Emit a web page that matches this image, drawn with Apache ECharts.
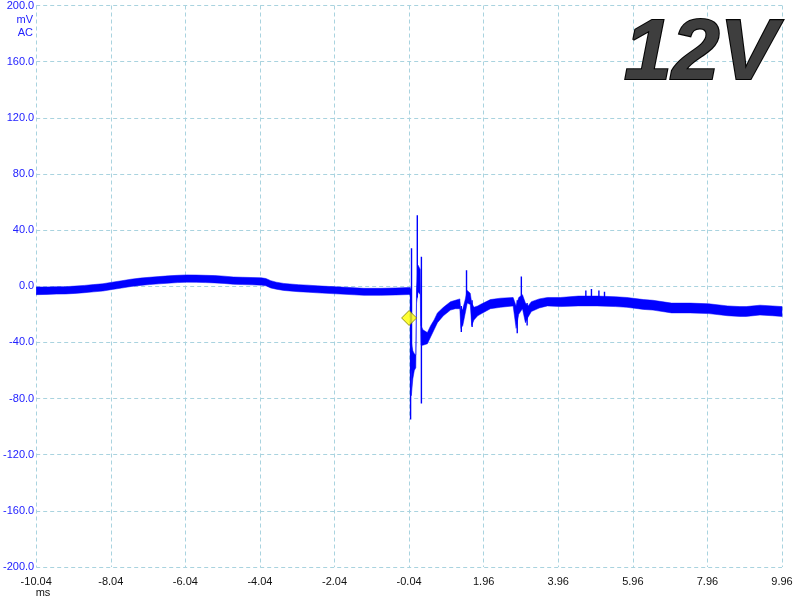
<!DOCTYPE html>
<html><head><meta charset="utf-8">
<script src="https://cdn.jsdelivr.net/npm/echarts@6/dist/echarts.min.js"></script>
<style>html,body{margin:0;padding:0;background:#fff}#c{width:800px;height:600px}</style>
</head><body><div id="c"></div>
<script>
const T0 = -10.04;
const T1 = 9.96;
const X_STEP = 2;
const Y_MIN = -200, Y_MAX = 200, Y_STEP = 40;

// trace envelope (ms, mV)
const bandT  = [-10.04,-9.75,-9.5,-9.25,-9.0,-8.75,-8.5,-8.25,-8.0,-7.75,-7.5,-7.25,-7.0,-6.75,-6.5,-6.25,-6.0,-5.75,-5.5,-5.25,-5.0,-4.75,-4.5,-4.25,-4.0,-3.88,-3.75,-3.6,-3.4,-3.0,-2.75,-2.5,-2.0,-1.5,-1.25,-0.8,-0.4,-0.05,0.0,0.02,0.06,0.10,0.14,0.16,0.2,0.26,0.28,0.33,0.45,0.54,0.63,0.72,0.88,1.07,1.2,1.32,1.35,1.40,1.46,1.52,1.60,1.64,1.70,1.80,1.87,2.14,2.41,2.75,2.83,2.90,3.0,3.08,3.15,3.24,3.45,3.67,4.02,4.5,5.0,5.5,5.8,6.25,6.5,7.0,7.5,8.0,8.5,8.83,9.0,9.37,9.7,9.96];
const bandHi = [-0.5,-0.5,-0.3,-0.3,0.1,0.6,1.2,1.8,2.9,3.9,5.0,5.8,6.4,6.9,7.4,7.8,8.1,8.0,7.8,7.6,7.2,6.6,6.4,6.2,6.0,5.5,4.0,2.9,2.0,1.1,0.8,0.3,-0.4,-1.1,-1.5,-1.5,-1.2,-0.9,-1,-40,-46,-48,-49,-2,15,12,-28,-31,-33,-28,-24,-19,-15,-11,-10,-9,-18,-16,-10,-3,-5,-12,-15,-14,-13,-9.5,-8.5,-8,-14,-8,-6,-12,-14,-11,-9,-8,-8,-7,-7,-7.5,-8,-9.5,-10,-12,-12,-12.5,-14,-14.5,-14.5,-13.5,-14,-14.5];
const bandLo = [-6.0,-5.8,-5.6,-5.5,-5.1,-4.6,-4.0,-3.4,-2.3,-1.3,-0.2,0.6,1.2,1.7,2.2,2.6,2.9,2.8,2.6,2.4,2.0,1.4,1.2,1.0,0.8,0.3,-1.2,-2.1,-3.0,-3.9,-4.2,-4.7,-5.4,-6.1,-6.5,-6.5,-6.2,-5.9,-6,-78,-66,-60,-58,-12,-4,-6,-42,-42,-41,-36,-31,-26,-21,-17,-16,-16,-30,-28,-20,-12,-13,-28,-24,-21,-20,-16,-15,-14,-30,-20,-16,-26,-22,-18,-15.5,-14,-14.5,-14,-14,-14.5,-15,-16.5,-17,-19,-19,-19.5,-21,-21.5,-21.5,-20.5,-21,-21.5];

// narrow glitches (ms, top mV, bottom mV)
const spikeT  = [0.0, 0.025, 0.18, 0.29, 1.36, 1.50, 1.65, 2.86, 2.97, 3.125, 4.7, 4.85, 5.05, 5.2];
const spikeHi = [-2, 27, 50.6, 21, -14, 11.4, -10, -10, 7, -12, -3, -2, -3, -4];
const spikeLo = [-95, -60, -8, -83.5, -32.6, -8, -29, -33.5, -12, -28, -12, -12, -12, -10];

// trigger marker
const trigT = -0.04, trigV = -22.6;

// big label
const bigLabel = '12V';

const OFF = -T0;
const chart = echarts.init(document.getElementById('c'), null, {renderer:'canvas'});
const spikeData = spikeT.map((t,i)=>[t+OFF, spikeHi[i], spikeLo[i]]);

const option = {
  animation:false,
  backgroundColor:'#ffffff',
  grid:{left:35, right:18, top:5, bottom:33, containLabel:false},
  xAxis:{
    type:'value', min:0, max:T1-T0, interval:X_STEP,
    axisLine:{show:false}, axisTick:{show:false},
    splitLine:{show:true, lineStyle:{color:'#a9d3df', type:[4,3], width:1}},
    axisLabel:{color:'#111', fontFamily:'Liberation Sans', fontSize:11, margin:9,
      formatter:v=>(v-OFF).toFixed(2)}
  },
  yAxis:{
    type:'value', min:Y_MIN, max:Y_MAX, interval:Y_STEP,
    axisLine:{show:false}, axisTick:{show:false},
    splitLine:{show:true, lineStyle:{color:'#a9d3df', type:[4,3], width:1}},
    axisLabel:{color:'#2222ff', fontFamily:'Liberation Sans', fontSize:11, margin:2,
      formatter:v=>v.toFixed(1)}
  },
  graphic:[
    {type:'text', x:33, y:20, style:{text:'mV', fill:'#2222ff', font:'11px "Liberation Sans"', textAlign:'right', textVerticalAlign:'middle'}},
    {type:'text', x:33, y:33, style:{text:'AC', fill:'#2222ff', font:'11px "Liberation Sans"', textAlign:'right', textVerticalAlign:'middle'}},
    {type:'text', x:43, y:593, style:{text:'ms', fill:'#111', font:'11px "Liberation Sans"', textAlign:'center', textVerticalAlign:'middle'}},
    {type:'text', x:624, y:12, z:100, style:{text:bigLabel, font:'italic bold 86px "Liberation Sans"', textAlign:'left', textVerticalAlign:'top',
      fill:'#3e3e3e', stroke:'#050505', lineWidth:2.2}}
  ],
  series:[
    {
      type:'custom', name:'band', coordinateSystem:'cartesian2d', clip:true, z:2,
      data:[[0,0]],
      renderItem:(params, api)=>{
        const pts = [];
        for (let i=0;i<bandT.length;i++) pts.push(api.coord([bandT[i]+OFF, bandHi[i]]));
        for (let i=bandT.length-1;i>=0;i--) pts.push(api.coord([bandT[i]+OFF, bandLo[i]]));
        return {type:'polygon', shape:{points:pts}, style:{fill:'#0000ff', stroke:'#0000ff', lineWidth:0.5}};
      }
    },
    {
      type:'custom', name:'spikes', coordinateSystem:'cartesian2d', clip:true, z:3,
      data:spikeData,
      renderItem:(params, api)=>{
        const a = api.coord([api.value(0), api.value(1)]);
        const b = api.coord([api.value(0), api.value(2)]);
        return {type:'line', shape:{x1:a[0], y1:a[1], x2:b[0], y2:b[1]}, style:{stroke:'#0000ff', lineWidth:1.4}};
      }
    },
    {
      type:'scatter', z:5, symbol:'diamond', symbolSize:[15,15],
      itemStyle:{color:'#ffff00', borderColor:'#7a7a00', borderWidth:1},
      data:[[trigT+OFF, trigV]]
    }
  ]
};
chart.setOption(option);
</script></body></html>
